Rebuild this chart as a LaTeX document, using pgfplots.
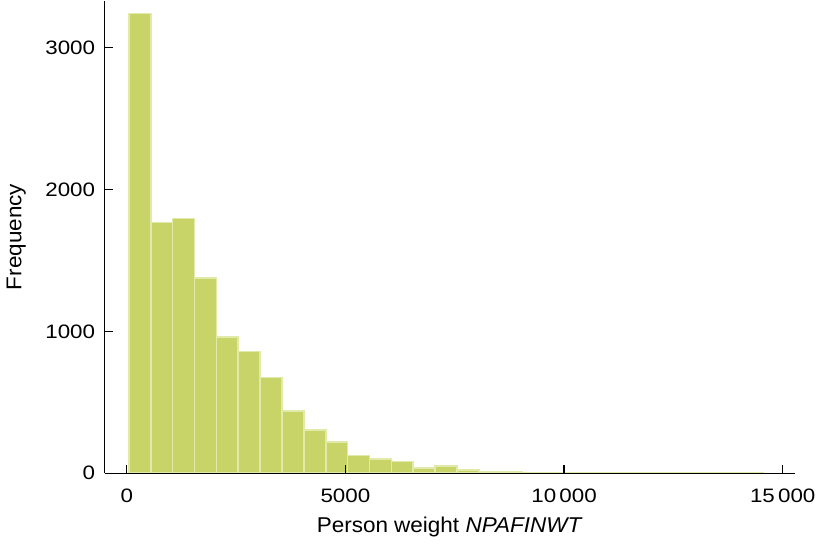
\documentclass[border=0pt]{standalone}
\usepackage{fontspec}
\setmainfont{Liberation Sans}[FakeStretch=1.05]
\newfontfamily\tickfont{Liberation Sans}[FakeStretch=1.15]
\usepackage{pgfplots}
\pgfplotsset{compat=1.18}
\definecolor{barfill}{RGB}{200,212,104}
\definecolor{baredge}{RGB}{226,234,170}
\begin{document}
\begin{tikzpicture}
\begin{axis}[
    width=346.5bp, height=237.5bp, scale only axis,
    xmin=-500, xmax=15270, ymin=0, ymax=3330,
    axis x line=bottom, axis y line=left,
    axis line style={-, line width=0.6pt, black},
    axis on top,
    xtick={0,5000,10000,15000}, ytick={0,1000,2000,3000},
    scaled ticks=false,
    tick align=inside,
    tick style={black, line width=0.6pt},
    major tick length=4bp,
    tick label style={font=\tickfont\fontsize{9.8}{11}\selectfont},
    xticklabel style={yshift=-4.5bp},
    yticklabel style={xshift=-1.4bp},
    label style={font=\fontsize{10.8}{12}\selectfont},
    xlabel={Person weight \textit{NPAFINWT}},
    ylabel={Frequency},
    ylabel style={yshift=3bp},
    /pgf/number format/fixed,
    /pgf/number format/1000 sep={\,},
    /pgf/number format/min exponent for 1000 sep=4,
    /pgf/number format/assume math mode=true,
]
% histogram counts, bins of width 500 starting at 50
\addplot[ybar interval, fill=barfill, draw=baredge, line width=0.8pt] coordinates {
    (50,3240) (550,1767) (1050,1795) (1550,1375) (2050,958) (2550,858)
    (3050,676) (3550,438) (4050,303) (4550,222) (5050,124) (5550,102)
    (6050,84) (6550,37) (7050,51) (7550,24) (8050,12) (8550,14)
    (9050,6) (9550,4) (10050,3) (10550,3) (11050,2) (11550,2)
    (12050,2) (12550,2) (13050,2) (13550,0) (14050,2) (14550,0)
};
\end{axis}
\end{tikzpicture}
\end{document}
